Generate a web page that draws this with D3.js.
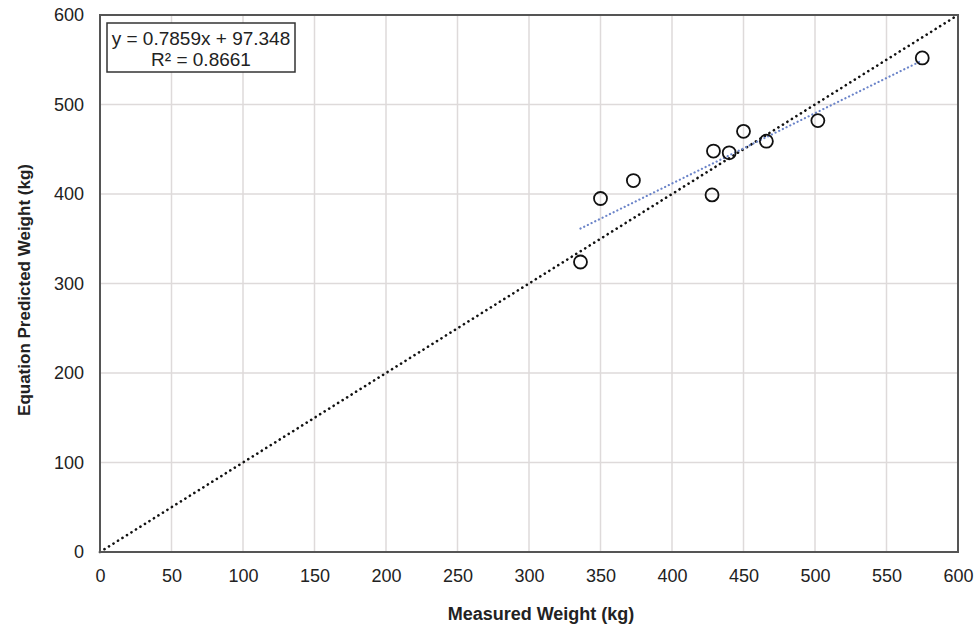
<!DOCTYPE html>
<html>
<head>
<meta charset="utf-8">
<script src="https://cdn.jsdelivr.net/npm/d3@7"></script>
<style>
  body { margin: 0; background: #fff; }
  text { font-family: "Liberation Sans", Arial, sans-serif; }
</style>
</head>
<body>
<script>
// Data
var measured = [336, 350, 373, 428, 429, 440, 450, 466, 502, 575];
var predicted = [324, 395, 415, 399, 448, 446, 470, 459, 482, 552];
var xTicks = [0, 50, 100, 150, 200, 250, 300, 350, 400, 450, 500, 550, 600];
var yTicks = [0, 100, 200, 300, 400, 500, 600];
var slope = 0.7859;
var intercept = 97.348;
var rSquared = "0.8661";

var svgWidth = 976;
var svgHeight = 629;
var margin = { top: 15, right: 18, bottom: 77, left: 100 };
var chartWidth = svgWidth - margin.left - margin.right;
var chartHeight = svgHeight - margin.top - margin.bottom;

var svg = d3.select("body")
  .append("svg")
  .attr("width", svgWidth)
  .attr("height", svgHeight);

var chartGroup = svg.append("g")
  .attr("transform", `translate(${margin.left}, ${margin.top})`);

var xScale = d3.scaleLinear().domain([0, 600]).range([0, chartWidth]);
var yScale = d3.scaleLinear().domain([0, 600]).range([chartHeight, 0]);

// gridlines
chartGroup.append("g")
  .selectAll("line")
  .data(xTicks.slice(1, -1))
  .enter()
  .append("line")
  .attr("x1", d => xScale(d)).attr("x2", d => xScale(d))
  .attr("y1", 0).attr("y2", chartHeight)
  .attr("stroke", "#dedada").attr("stroke-width", 1.5);

chartGroup.append("g")
  .selectAll("line")
  .data(yTicks.slice(1, -1))
  .enter()
  .append("line")
  .attr("y1", d => yScale(d)).attr("y2", d => yScale(d))
  .attr("x1", 0).attr("x2", chartWidth)
  .attr("stroke", "#dedada").attr("stroke-width", 1.5);

// axes (labels only)
var bottomAxis = d3.axisBottom(xScale).tickValues(xTicks).tickSize(0).tickPadding(17);
var leftAxis = d3.axisLeft(yScale).tickValues(yTicks).tickSize(0).tickPadding(16);

var xAxisG = chartGroup.append("g")
  .attr("transform", `translate(0, ${chartHeight})`)
  .call(bottomAxis);
var yAxisG = chartGroup.append("g").call(leftAxis);

[xAxisG, yAxisG].forEach(function(g) {
  g.select(".domain").remove();
  g.selectAll("text")
    .style("font-size", "18px")
    .style("font-family", "'Liberation Sans', Arial, sans-serif")
    .attr("fill", "#222");
});

// 1:1 line
chartGroup.append("line")
  .attr("x1", xScale(0)).attr("y1", yScale(0))
  .attr("x2", xScale(600)).attr("y2", yScale(600))
  .attr("stroke", "#111")
  .attr("stroke-width", 2.6)
  .attr("stroke-linecap", "round")
  .attr("stroke-dasharray", "0.1,5.2");

// trendline
var xMin = d3.min(measured);
var xMax = d3.max(measured);
chartGroup.append("line")
  .attr("x1", xScale(xMin)).attr("y1", yScale(slope * xMin + intercept))
  .attr("x2", xScale(xMax)).attr("y2", yScale(slope * xMax + intercept))
  .attr("stroke", "#6b84c9")
  .attr("stroke-width", 2.2)
  .attr("stroke-linecap", "round")
  .attr("stroke-dasharray", "0.1,4");

// points
chartGroup.selectAll(".pt")
  .data(measured)
  .enter()
  .append("circle")
  .attr("class", "pt")
  .attr("cx", d => xScale(d))
  .attr("cy", (d, i) => yScale(predicted[i]))
  .attr("r", 6.5)
  .attr("fill", "none")
  .attr("stroke", "#111")
  .attr("stroke-width", 1.8);

// plot border
chartGroup.append("rect")
  .attr("x", 0).attr("y", 0)
  .attr("width", chartWidth).attr("height", chartHeight)
  .attr("fill", "none")
  .attr("stroke", "#555")
  .attr("stroke-width", 2);

// equation box
var box = chartGroup.append("g").attr("transform", "translate(7, 8)");
box.append("rect")
  .attr("width", 188).attr("height", 49)
  .attr("fill", "#fff")
  .attr("stroke", "#333")
  .attr("stroke-width", 1.5);
box.append("text")
  .attr("x", 94).attr("y", 22)
  .attr("text-anchor", "middle")
  .style("font-size", "19px")
  .attr("fill", "#222")
  .text(`y = ${slope}x + ${intercept}`);
box.append("text")
  .attr("x", 94).attr("y", 43)
  .attr("text-anchor", "middle")
  .style("font-size", "19px")
  .attr("fill", "#222")
  .text(`R² = ${rSquared}`);

// axis titles
svg.append("text")
  .attr("x", 541)
  .attr("y", 620)
  .attr("text-anchor", "middle")
  .style("font-size", "18px")
  .style("font-weight", "bold")
  .attr("fill", "#222")
  .text("Measured Weight (kg)");

svg.append("text")
  .attr("transform", "translate(30, 290) rotate(-90)")
  .attr("text-anchor", "middle")
  .style("font-size", "17px")
  .style("font-weight", "bold")
  .attr("fill", "#222")
  .text("Equation Predicted Weight (kg)");
</script>
</body>
</html>
